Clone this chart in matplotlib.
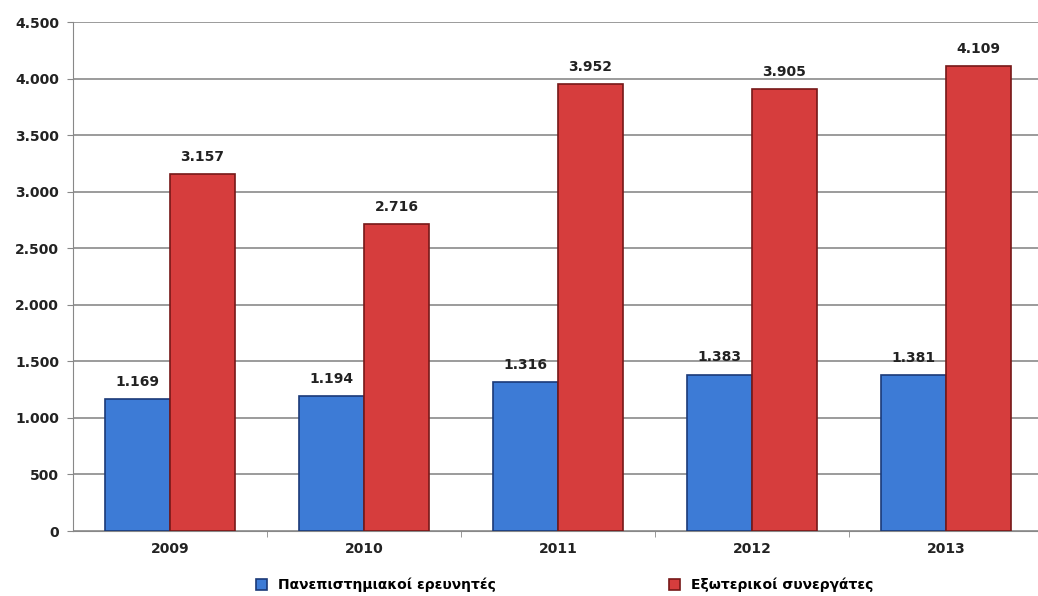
import matplotlib.pyplot as plt
import numpy as np

years = ["2009", "2010", "2011", "2012", "2013"]
university = [1169, 1194, 1316, 1383, 1381]
external = [3157, 2716, 3952, 3905, 4109]
series_names = ["Πανεπιστημιακοί ερευνητές", "Εξωτερικοί συνεργάτες"]


def fmt(v):
    return f"{v:,}".replace(",", ".")


plt.rcParams['font.family'] = ['DejaVu Sans']

fig = plt.figure(figsize=(10.38, 5.96), dpi=100)
ax = fig.add_axes([0.0703, 0.109, 0.9345, 0.854])

x = np.arange(len(years))
w = 0.335
b1 = ax.bar(x - w / 2, university, w, color="#3d7bd6", edgecolor="#1b3a78", linewidth=1.2,
            label=series_names[0], zorder=3)
b2 = ax.bar(x + w / 2, external, w, color="#d63d3d", edgecolor="#761818", linewidth=1.2,
            label=series_names[1], zorder=3)

for bars, vals in [(b1, university), (b2, external)]:
    for r, v in zip(bars, vals):
        ax.text(r.get_x() + r.get_width() / 2, v + 90, fmt(v), ha="center", va="bottom",
                fontsize=10, fontweight="bold", color="#222222")

ax.set_xlim(-0.5, 4.5)
ax.set_ylim(0, 4500)
ax.set_yticks(range(0, 4501, 500))
ax.set_yticklabels([fmt(v) for v in range(0, 4501, 500)], fontsize=10, fontweight="bold", color="#222222")
ax.set_xticks(x)
ax.set_xticklabels(years, fontsize=10, fontweight="bold", color="#222222")
ax.tick_params(axis="x", length=0, pad=8)
ax.tick_params(axis="y", length=4, color="#888888", pad=6)
ax.set_xticks(np.arange(0.5, 4.5, 1), minor=True)
ax.tick_params(axis="x", which="minor", length=4, color="#888888")

ax.grid(axis="y", color="#808080", linewidth=1.1, zorder=0)
for s in ["top", "right"]:
    ax.spines[s].set_visible(False)
ax.spines["left"].set_color("#888888")
ax.spines["bottom"].set_color("#888888")

fig.legend(handles=[b1, b2], loc="lower center", bbox_to_anchor=(0.544, -0.015), ncol=2,
           frameon=False, handlelength=0.8, handleheight=0.8, columnspacing=12.5,
           prop={"weight": "bold", "size": 10})

fig.savefig("out.png", dpi=100)
